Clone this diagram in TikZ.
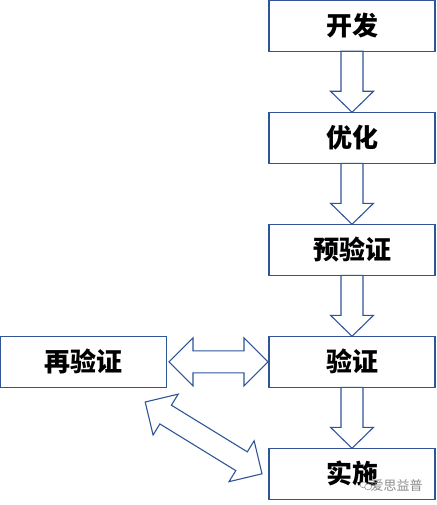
\documentclass[tikz,border=0pt]{standalone}
\usepackage{fontspec}
\setmainfont{Noto Sans CJK SC}
\usepackage{xcolor}
\usetikzlibrary{calc,positioning,shapes.geometric}
\definecolor{boxline}{HTML}{2F5597}

\newcommand{\downblock}[2]{%
  \draw[hollow] ($(#1)!11pt!90:(#2)$) -- ($(#2)!21pt!(#1)!11pt!-90:(#1)$)
    -- ($(#2)!21pt!(#1)!21.5pt!-90:(#1)$) -- (#2)
    -- ($(#2)!21pt!(#1)!21.5pt!90:(#1)$) -- ($(#2)!21pt!(#1)!11pt!90:(#1)$)
    -- ($(#1)!11pt!-90:(#2)$) -- cycle;}
\newcommand{\bothblock}[2]{%
  \draw[hollow] (#1) -- ($(#1)!24pt!(#2)!24pt!90:(#2)$) -- ($(#1)!24pt!(#2)!11pt!90:(#2)$)
    -- ($(#2)!24pt!(#1)!11pt!-90:(#1)$) -- ($(#2)!24pt!(#1)!24pt!-90:(#1)$) -- (#2)
    -- ($(#2)!24pt!(#1)!24pt!90:(#1)$) -- ($(#2)!24pt!(#1)!11pt!90:(#1)$)
    -- ($(#1)!24pt!(#2)!11pt!-90:(#2)$) -- ($(#1)!24pt!(#2)!24pt!-90:(#2)$) -- cycle;}

\begin{document}
\begin{tikzpicture}[
    node distance=61pt and 102.5pt,
    box/.style={draw=boxline, line width=1.3pt, align=center, minimum width=166pt,
                minimum height=51pt, outer sep=0pt, inner sep=0pt,
                font=\fontsize{26}{30}\selectfont\bfseries},
    hollow/.style={draw=boxline, line width=1.1pt, fill=white, line join=miter},
    bubble/.style={draw=black!40, line width=0.6pt, ellipse, fill=white, minimum width=7pt,
                minimum height=6pt, inner sep=0pt}
]
\useasboundingbox (0,0) rectangle (436pt,-505pt);
\node[box] (dev) at (352pt,-25.8pt) {开发};
\node[box, below=of dev] (opt) {优化};
\node[box, below=of opt] (preval) {预验证};
\node[box, below=of preval] (val) {验证};
\node[box, below=of val] (impl) {实施};
\node[box, left=of val] (reval) {再验证};
\coordinate[xshift=2.5pt] (revalr) at (reval.east);
\coordinate[xshift=-1pt] (valr) at (val.west);
\coordinate[xshift=-21.3pt, yshift=-14.7pt] (revald) at (reval.south east);
\coordinate[xshift=-7pt] (impld) at (impl.west);
\downblock{dev.south}{opt.north}
\downblock{opt.south}{preval.north}
\downblock{preval.south}{val.north}
\downblock{val.south}{impl.north}
\bothblock{revalr}{valr}
\bothblock{revald}{impld}
\node[text=black!45, font=\fontsize{13}{15}\selectfont, inner sep=0pt,
      xshift=44.5pt, yshift=-12pt] (mark) at (impl.center) {爱思益普};
\node[bubble, left=3pt of mark.west, yshift=1pt] (bubblea) {};
\node[bubble, right=-3pt of bubblea, yshift=-2pt] (bubbleb) {};
\end{tikzpicture}
\end{document}
